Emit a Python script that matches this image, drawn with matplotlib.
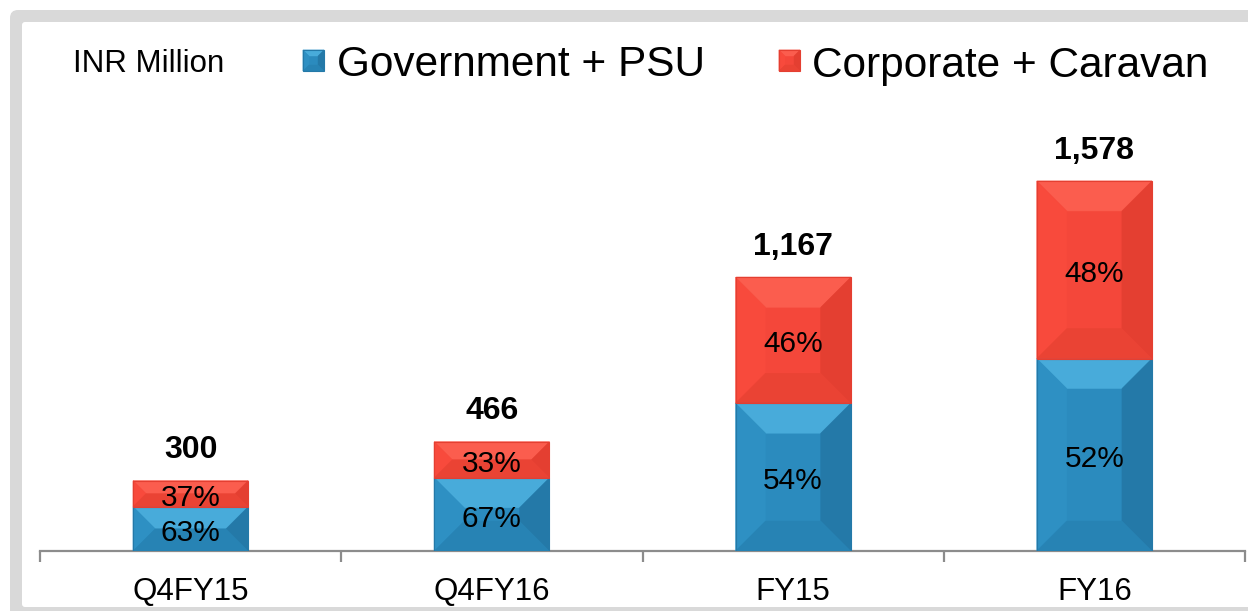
import matplotlib.pyplot as plt
from matplotlib.patches import Polygon, FancyBboxPatch

categories = ["Q4FY15", "Q4FY16", "FY15", "FY16"]
totals = [300, 466, 1167, 1578]
gov_share = [63, 67, 54, 52]
corp_share = [37, 33, 46, 48]
series_names = ["Government + PSU", "Corporate + Caravan"]
unit_label = "INR Million"

# face colours: main, top, left, right, bottom
blue = ["#2B8BBE", "#48ABDA", "#2E90C3", "#2479A8", "#2783B4"]
red = ["#F4473A", "#FB5D4E", "#F84A3C", "#E43F31", "#EA4334"]

plt.rcParams['font.family'] = ['Liberation Sans', 'DejaVu Sans']

W, H = 1248, 611
fig = plt.figure(figsize=(W / 100, H / 100), dpi=100)
inch = fig.dpi_scale_trans


def bevel(target, x0, x1, y0, y1, dx, dy, cols, transform, z=3):
    faces = [
        ([(x0, y0), (x1, y0), (x1, y1), (x0, y1)], cols[0]),
        ([(x0, y1), (x1, y1), (x1 - dx, y1 - dy), (x0 + dx, y1 - dy)], cols[1]),
        ([(x0, y0), (x0 + dx, y0 + dy), (x0 + dx, y1 - dy), (x0, y1)], cols[2]),
        ([(x1, y0), (x1, y1), (x1 - dx, y1 - dy), (x1 - dx, y0 + dy)], cols[3]),
        ([(x0, y0), (x1, y0), (x1 - dx, y0 + dy), (x0 + dx, y0 + dy)], cols[4]),
    ]
    for pts, c in faces:
        p = Polygon(pts, closed=True, facecolor=c, edgecolor=c, lw=0.3,
                    transform=transform, zorder=z)
        if target is fig:
            fig.add_artist(p)
        else:
            target.add_patch(p)
    edge = Polygon([(x0, y0), (x1, y0), (x1, y1), (x0, y1)], closed=True,
                   facecolor="none", edgecolor=cols[3], lw=0.8,
                   transform=transform, zorder=z + 0.1)
    if target is fig:
        fig.add_artist(edge)
    else:
        target.add_patch(edge)


# grey frame
outer = FancyBboxPatch((0.10, -0.5), 13.0, 6.51, boxstyle="round,pad=0,rounding_size=0.08",
                       facecolor="#D9D9D9", edgecolor="none", transform=inch, zorder=-2)
inner = FancyBboxPatch((0.22, 0.04), 13.0, 5.85, boxstyle="round,pad=0,rounding_size=0.03",
                       facecolor="white", edgecolor="none", transform=inch, zorder=-1)
fig.add_artist(outer)
fig.add_artist(inner)

ax = fig.add_axes([40 / W, 60 / H, 1205 / W, 529 / H])
ax.patch.set_visible(False)
ymax = 2256
ax.set_xlim(-0.5, 3.5)
ax.set_ylim(0, ymax)

gov = [t * g / 100 for t, g in zip(totals, gov_share)]
corp = [t * c / 100 for t, c in zip(totals, corp_share)]

x = list(range(len(categories)))
width = 0.382
bars_gov = ax.bar(x, gov, width, color=blue[0], zorder=2)
bars_corp = ax.bar(x, corp, width, bottom=gov, color=red[0], zorder=2)

xpp = 4 / 1205
ypp = ymax / 529
bev = 30
for bars, cols, shares in [(bars_gov, blue, gov_share), (bars_corp, red, corp_share)]:
    for r, s in zip(bars, shares):
        x0, y0 = r.get_x(), r.get_y()
        x1, y1 = x0 + r.get_width(), y0 + r.get_height()
        hpx = r.get_height() / ypp
        d = min(bev, hpx / 2)
        bevel(ax, x0, x1, y0, y1, d * xpp, d * ypp, cols, ax.transData)
        ax.annotate(f"{s}%", (x0 + r.get_width() / 2, y0 + r.get_height() / 2),
                    xytext=(0, -3), textcoords="offset points",
                    ha="center", va="center", fontsize=21.5, color="black", zorder=5)

for xi, t in zip(x, totals):
    ax.annotate(f"{t:,}", (xi, t), xytext=(0, 11), textcoords="offset points",
                ha="center", va="bottom", fontsize=23, fontweight="bold", zorder=5)

for s in ["top", "left", "right"]:
    ax.spines[s].set_visible(False)
ax.spines["bottom"].set_color("#8C8C8C")
ax.spines["bottom"].set_linewidth(1.6)
ax.set_yticks([])
ax.set_xticks(x)
ax.set_xticklabels(categories, fontsize=22.5)
ax.tick_params(axis="x", which="major", length=0, pad=19)
ax.set_xticks([i - 0.5 for i in range(len(categories) + 1)], minor=True)
ax.tick_params(axis="x", which="minor", length=8, width=1.6, color="#8C8C8C", direction="out")

# legend drawn by hand
fig.text(0.73, (H - 61) / 100, unit_label, transform=inch, fontsize=22.5,
         ha="left", va="center_baseline")
legend_pos = [(303, 337), (779, 812)]
for (sx, tx), name, cols in zip(legend_pos, series_names, [blue, red]):
    bevel(fig, sx / 100, (sx + 21) / 100, (H - 71) / 100, (H - 50) / 100,
          0.06, 0.06, cols, inch, z=4)
    fig.text(tx / 100, (H - 61) / 100, name, transform=inch, fontsize=30.5,
             ha="left", va="center_baseline")

fig.savefig("out.png", dpi=100)
